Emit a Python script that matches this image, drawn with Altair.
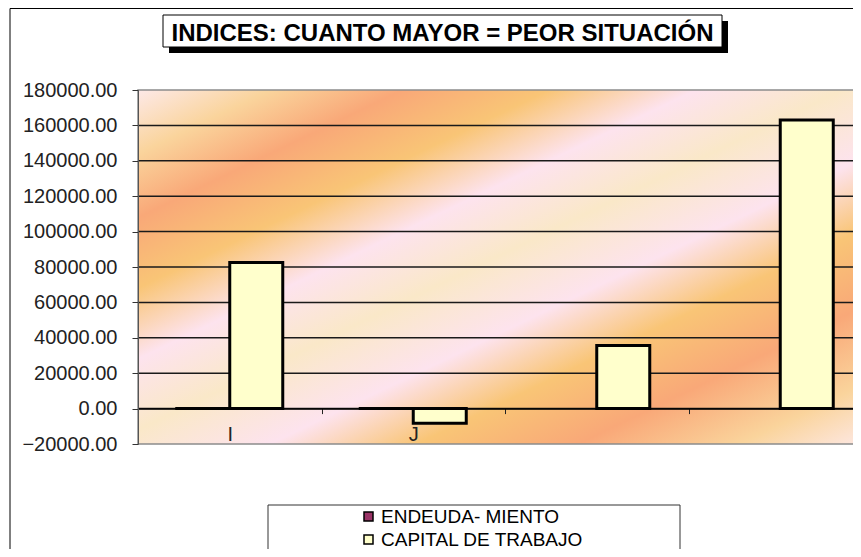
import altair as alt
import pandas as pd

# ---------------- data ----------------
categories = ["I", "J", "K", "L"]
category_labels = ["I", "J", "", ""]
series = ["ENDEUDA- MIENTO", "CAPITAL DE TRABAJO"]
endeudamiento = [0.7, 0.8, None, None]
capital_trabajo = [82500, -8300, 35700, 163000]
y_ticks = [-20000, 0, 20000, 40000, 60000, 80000, 100000,
           120000, 140000, 160000, 180000]
series_colors = ["#993366", "#FFFFCC"]
title_text = "INDICES: CUANTO MAYOR = PEOR SITUACIÓN"

rows = []
for i, c in enumerate(categories):
    rows.append({"category": c, "series": series[0], "value": endeudamiento[i]})
    rows.append({"category": c, "series": series[1], "value": capital_trabajo[i]})
df = pd.DataFrame(rows)
grid_df = pd.DataFrame({"value": y_ticks[1:-1]})

# ---------------- layout ----------------
# the whole svg must fit in the 861x557 window minus the 8px page margins
PAD_L, PAD_T = 130, 82
W_VISIBLE, W_FULL, H = 715, 734, 354
PAD_B = 541 - PAD_T - H
FONT = "Liberation Sans"
zero_offset = -H * (0 - y_ticks[0]) / (y_ticks[-1] - y_ticks[0])

yscale = alt.Scale(domain=[y_ticks[0], y_ticks[-1]], nice=False, zero=False)
yaxis = alt.Axis(title=None, values=y_ticks, format=".2f", grid=False,
                 tickSize=6, tickColor="#333", domainColor="#555",
                 labelPadding=15, labelFont=FONT, labelFontSize=20,
                 labelColor="#222", zindex=1)

label_expr = "{}[indexof({}, datum.value)]".format(
    "[" + ",".join("'%s'" % s for s in category_labels) + "]",
    "[" + ",".join("'%s'" % s for s in categories) + "]")

xaxis = alt.Axis(title=None, orient="bottom", offset=zero_offset,
                 tickBand="extent", tickSize=5, tickColor="#222",
                 domainColor="black", domainWidth=1.5, labelPadding=11,
                 labelFont=FONT, labelFontSize=20, labelColor="#222",
                 labelAngle=0, labelExpr=label_expr, grid=False, zindex=1)

gradient = alt.Gradient(
    gradient="linear", x1=0, y1=0, x2=1, y2=1,
    stops=[
        alt.GradientStop(color="#FDE9E8", offset=0.0),
        alt.GradientStop(color="#FAD49C", offset=0.09),
        alt.GradientStop(color="#F9A878", offset=0.18),
        alt.GradientStop(color="#F9C576", offset=0.28),
        alt.GradientStop(color="#FDE3EE", offset=0.38),
        alt.GradientStop(color="#FAE8C8", offset=0.48),
        alt.GradientStop(color="#FDE3EE", offset=0.59),
        alt.GradientStop(color="#F9C576", offset=0.69),
        alt.GradientStop(color="#F9A878", offset=0.80),
        alt.GradientStop(color="#FAD49C", offset=0.91),
        alt.GradientStop(color="#FDE9E8", offset=1.0),
    ],
)

one = alt.Data(values=[{}])

outer_border = alt.Chart(one).mark_rect(stroke="black", strokeWidth=1,
                                        fillOpacity=0).encode(
    x=alt.value(-128), x2=alt.value(W_FULL + 100),
    y=alt.value(-81.5), y2=alt.value(H + 300))

background = alt.Chart(one).mark_rect(fill=gradient, stroke="#8c8c8c",
                                      strokeWidth=1.5).encode(
    x=alt.value(0), x2=alt.value(W_FULL), y=alt.value(0), y2=alt.value(H))

grid = alt.Chart(grid_df).mark_rule(color="#1a1a1a", strokeWidth=1.5).encode(
    x=alt.value(0), x2=alt.value(W_FULL),
    y=alt.Y("value:Q", scale=yscale, axis=yaxis))

bars = alt.Chart(df).mark_bar(stroke="black", strokeWidth=3).encode(
    x=alt.X("category:N", sort=categories,
            scale=alt.Scale(domain=categories, range=[0, W_FULL],
                            paddingInner=0, paddingOuter=0),
            axis=xaxis),
    xOffset=alt.XOffset("series:N", sort=series,
                        scale=alt.Scale(domain=series, paddingInner=0,
                                        paddingOuter=0.731)),
    y=alt.Y("value:Q", scale=yscale, axis=yaxis),
    color=alt.Color("series:N",
                    scale=alt.Scale(domain=series, range=series_colors),
                    legend=alt.Legend(title=None, orient="none",
                                      legendX=221, legendY=417,
                                      symbolType="square", symbolSize=81,
                                      symbolStrokeColor="black",
                                      symbolStrokeWidth=1.5,
                                      labelFont=FONT, labelFontSize=19,
                                      labelColor="black", labelLimit=400,
                                      rowPadding=3, padding=0,
                                      labelOffset=3)),
)

title_shadow = alt.Chart(one).mark_rect(fill="black").encode(
    x=alt.value(31), x2=alt.value(590), y=alt.value(-69), y2=alt.value(-37))
title_box = alt.Chart(one).mark_rect(fill="white", stroke="black",
                                     strokeWidth=1).encode(
    x=alt.value(25), x2=alt.value(584), y=alt.value(-75), y2=alt.value(-43))
title = alt.Chart(alt.Data(values=[{"t": title_text}])).mark_text(
    font=FONT, fontWeight="bold", fontSize=24, align="center",
    baseline="alphabetic", color="black").encode(
    text="t:N", x=alt.value(304.5), y=alt.value(-49))

legend_box = alt.Chart(one).mark_rect(fill="white", stroke="#333",
                                      strokeWidth=1).encode(
    x=alt.value(130), x2=alt.value(542), y=alt.value(415), y2=alt.value(480))

chart = alt.layer(
    outer_border, background, grid, bars, title_shadow, title_box, title,
    legend_box,
).properties(
    width=W_VISIBLE, height=H,
    autosize="none",
    padding={"left": PAD_L, "top": PAD_T, "right": 0, "bottom": PAD_B},
    background="white",
).configure_view(stroke=None)

chart.save("out.html", embed_options={"renderer": "svg", "actions": False})
